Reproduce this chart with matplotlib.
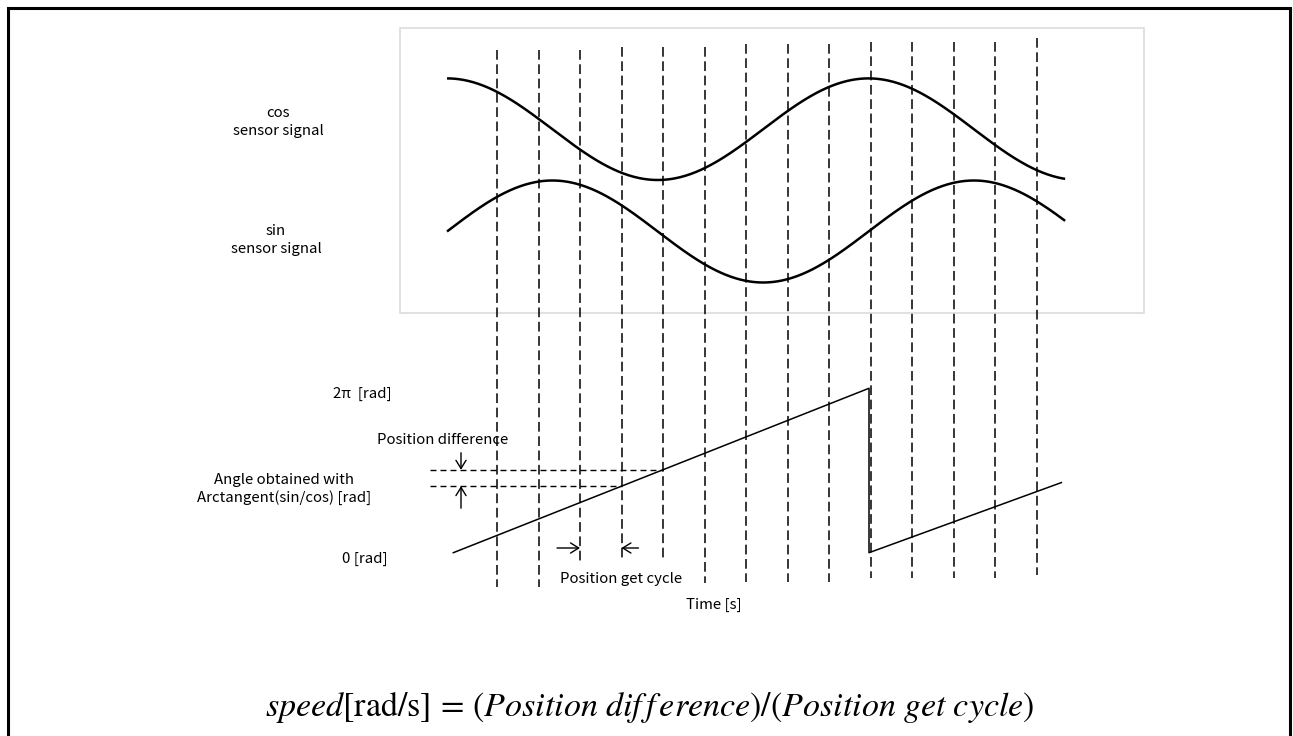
import numpy as np
import matplotlib
matplotlib.use("Agg")
import matplotlib.pyplot as plt
from matplotlib.patches import Rectangle
from matplotlib.transforms import blended_transform_factory

plt.rcParams['font.family'] = ['Noto Sans CJK JP', 'DejaVu Sans']
plt.rcParams['mathtext.fontset'] = 'stix'
plt.rcParams['lines.scale_dashes'] = False

# ---------------- data (time in sample periods, angle in rad) ----------------
sample_times = list(range(14))            # position acquisition instants
signal_start = -1.205                     # sensor traces start (angle 0)
signal_end = 13.69                        # sensor traces end
signal_period = 10.157                    # one electrical revolution
angle_times = [-1.053, 8.964, 8.964, 13.60]
angle_values = [0.0, 2 * np.pi, 0.0, 2.68]
diff_samples = [3, 4]                     # samples used for the position difference
cycle_samples = [2, 3]                    # samples bracketing the position get cycle

# ---------------- layout ----------------
W, H = 1293, 736
fig = plt.figure(figsize=(W / 100, H / 100), dpi=100)

ax = fig.add_axes([0, 0, 1, 1])
ax.set_xlim(0, W)
ax.set_ylim(H, 0)
ax.axis('off')

PX_PER_SAMPLE = 41.5
X0 = 497.0
tlim = (-X0 / PX_PER_SAMPLE, (W - X0) / PX_PER_SAMPLE)


def ylim_for(center_px, px_per_unit):
    return ((center_px - H) / px_per_unit, center_px / px_per_unit)


def overlay(ylim):
    a = fig.add_axes([0, 0, 1, 1])
    a.set_xlim(*tlim)
    a.set_ylim(*ylim)
    a.axis('off')
    a.patch.set_alpha(0)
    return a


ax_cos = overlay(ylim_for(129.2, 50.8))
ax_sin = overlay(ylim_for(231.5, 51.0))
ax_ang = overlay(ylim_for(552.7, 26.17))

# outer frame (open at the bottom) and sensor box
ax.plot([8, 8, 1290, 1290], [740, 8, 8, 740], color='black', lw=2.2,
        solid_joinstyle='miter')
ax.add_patch(Rectangle((400, 28), 744, 285, fill=False, lw=1.2, ec='#dcdcdc'))

# sensor signals
t = np.linspace(signal_start, signal_end, 600)
phase = 2 * np.pi * (t - signal_start) / signal_period
ax_cos.plot(t, np.cos(phase), color='black', lw=1.8, solid_capstyle='butt')
ax_sin.plot(t, np.sin(phase), color='black', lw=1.8, solid_capstyle='butt')

# sampling instants (dashed verticals)
line_tops = [50, 50, 50, 47, 47, 47, 44, 44, 44, 42, 42, 42, 42, 38]
line_bottoms = [587, 587, 562, 562, 562, 583, 582, 582, 582, 578, 578, 578, 578, 575]
tr_v = blended_transform_factory(ax_ang.transData, ax.transData)
for k, top, bot in zip(sample_times, line_tops, line_bottoms):
    ax.plot([k, k], [top, bot], transform=tr_v, color='black', lw=1.1,
            dashes=(7.0, 3.3))

# angle sawtooth
ax_ang.plot(angle_times, angle_values, color='black', lw=1.1)

# position difference
diff_vals = [np.interp(k, angle_times[:2], angle_values[:2]) for k in diff_samples]
t_left = (430 - X0) / PX_PER_SAMPLE
for k, v in zip(diff_samples, diff_vals):
    ax_ang.plot([t_left, k], [v, v], color='black', lw=1.0, dashes=(4.3, 2.9))

t_arrow = (461 - X0) / PX_PER_SAMPLE
astyle = dict(arrowstyle='->,head_length=0.45,head_width=0.28', lw=1.0,
              color='black', shrinkA=0, shrinkB=0, mutation_scale=13)
ax_ang.annotate('', xy=(t_arrow, diff_vals[1]), xytext=(0, 17),
                textcoords='offset pixels', arrowprops=astyle)
ax_ang.annotate('', xy=(t_arrow, diff_vals[0]), xytext=(0, -22),
                textcoords='offset pixels', arrowprops=astyle)

# position get cycle arrows
ax.annotate('', xy=(cycle_samples[0], 548), xycoords=tr_v, xytext=(-23, 0),
            textcoords='offset pixels', arrowprops=astyle)
ax.annotate('', xy=(cycle_samples[1], 548), xycoords=tr_v, xytext=(17, 0),
            textcoords='offset pixels', arrowprops=astyle)

# labels
fs = 10.8
ax.text(278, 122, 'cos\nsensor signal', ha='center', va='center', fontsize=fs,
        linespacing=1.3)
ax.text(276, 240, 'sin\nsensor signal', ha='center', va='center', fontsize=fs,
        linespacing=1.3)
ax.text(333, 394, '2π  [rad]', ha='left', va='center', fontsize=fs)
ax.text(377, 440, 'Position difference', ha='left', va='center', fontsize=fs)
ax.text(284, 489, 'Angle obtained with\nArctangent(sin/cos) [rad]', ha='center',
        va='center', fontsize=fs, linespacing=1.3)
ax.text(342, 559, '0 [rad]', ha='left', va='center', fontsize=fs)
ax.text(560, 579, 'Position get cycle', ha='left', va='center', fontsize=fs)
ax.text(686, 605, 'Time [s]', ha='left', va='center', fontsize=fs)

ax.text(650, 707,
        r'$speed[\mathrm{rad/s}]\,=\,(Position\ dif\,f\,erence)/(Position\ get\ cycle)$',
        ha='center', va='center', fontsize=24.5)

fig.savefig('out.png', dpi=100)
